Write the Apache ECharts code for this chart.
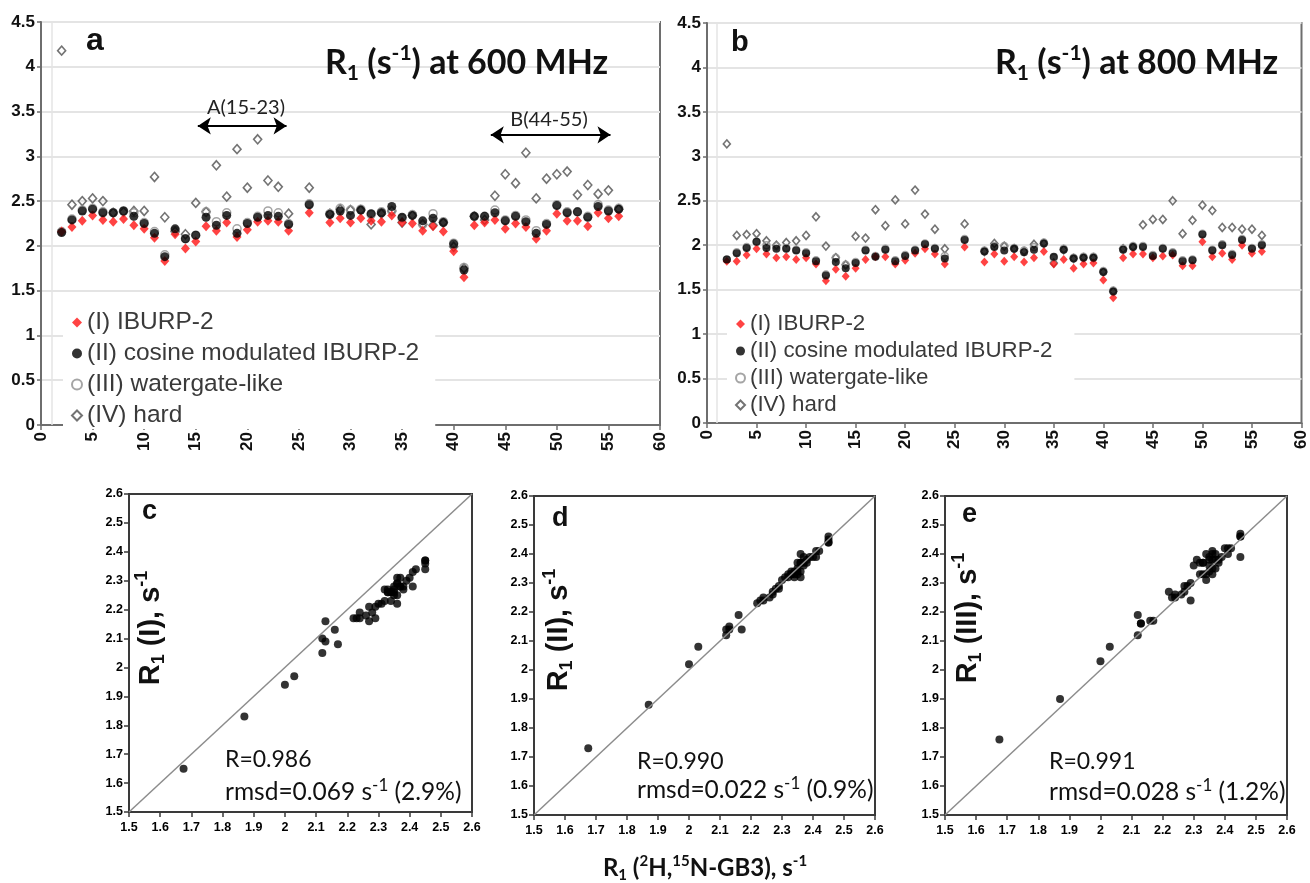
<!DOCTYPE html>
<html><head><meta charset="utf-8">
<script src="https://cdn.jsdelivr.net/npm/echarts@6/dist/echarts.min.js"></script>
<style>html,body{margin:0;padding:0;background:#fff}#c{width:1310px;height:883px}</style>
</head><body><div id="c"></div>
<script>
// ---------- data ----------
const residues = [2,3,4,5,6,7,8,9,10,11,12,13,14,15,16,17,18,19,20,21,22,23,24,26,28,29,30,31,32,33,34,35,36,37,38,39,40,41,42,43,44,45,46,47,48,49,50,51,52,53,54,55,56];

// R1 at 600 MHz (panel a)
const r600_I   = [2.16,2.21,2.28,2.34,2.29,2.27,2.30,2.23,2.19,2.09,1.83,2.13,1.97,2.05,2.22,2.17,2.26,2.10,2.18,2.27,2.28,2.27,2.17,2.37,2.26,2.31,2.26,2.31,2.28,2.27,2.34,2.26,2.25,2.17,2.22,2.16,1.94,1.65,2.23,2.26,2.29,2.19,2.25,2.21,2.08,2.17,2.36,2.28,2.28,2.22,2.37,2.31,2.33];
const r600_II  = [2.15,2.29,2.39,2.41,2.37,2.37,2.39,2.33,2.25,2.14,1.88,2.19,2.08,2.12,2.32,2.23,2.34,2.14,2.25,2.32,2.34,2.33,2.24,2.46,2.35,2.39,2.34,2.40,2.36,2.37,2.44,2.32,2.34,2.28,2.31,2.26,2.02,1.73,2.33,2.33,2.37,2.28,2.33,2.27,2.14,2.24,2.45,2.37,2.38,2.32,2.44,2.39,2.41];
const r600_III = [2.16,2.30,2.40,2.42,2.38,2.37,2.39,2.37,2.26,2.16,1.90,2.17,2.08,2.12,2.38,2.27,2.37,2.19,2.26,2.33,2.39,2.37,2.25,2.47,2.36,2.42,2.40,2.41,2.35,2.38,2.39,2.31,2.35,2.24,2.36,2.27,2.03,1.76,2.33,2.33,2.40,2.29,2.34,2.29,2.17,2.25,2.46,2.38,2.38,2.33,2.46,2.40,2.42];
const r600_IV  = [4.18,2.46,2.50,2.53,2.50,2.37,2.38,2.39,2.39,2.77,2.32,2.16,2.13,2.48,2.38,2.90,2.55,3.08,2.65,3.19,2.73,2.66,2.36,2.65,2.36,2.41,2.40,2.40,2.24,2.36,2.39,2.26,2.34,2.24,2.23,2.26,1.99,1.75,2.33,2.29,2.56,2.80,2.70,3.04,2.53,2.75,2.80,2.83,2.57,2.68,2.58,2.62,2.41];

// R1 at 800 MHz (panel b)
const r800_I   = [1.82,1.82,1.89,1.96,1.90,1.86,1.87,1.84,1.86,1.79,1.60,1.73,1.65,1.74,1.84,1.87,1.87,1.79,1.83,1.91,1.96,1.90,1.79,1.98,1.81,1.90,1.82,1.87,1.81,1.86,1.93,1.79,1.84,1.74,1.79,1.80,1.61,1.41,1.86,1.90,1.90,1.86,1.88,1.89,1.77,1.77,2.04,1.87,1.91,1.84,2.00,1.91,1.93];
const r800_II  = [1.84,1.91,1.97,2.04,1.97,1.96,1.96,1.94,1.91,1.82,1.66,1.81,1.74,1.80,1.94,1.87,1.95,1.82,1.88,1.94,2.01,1.96,1.85,2.06,1.93,1.98,1.94,1.96,1.92,1.95,2.02,1.87,1.95,1.85,1.86,1.86,1.70,1.48,1.95,1.98,1.98,1.88,1.96,1.91,1.82,1.83,2.12,1.94,2.00,1.89,2.06,1.96,2.00];
const r800_III = [1.84,1.92,1.98,2.04,2.00,1.99,1.97,1.95,1.92,1.83,1.67,1.86,1.78,1.81,1.95,1.88,1.96,1.83,1.89,1.95,2.02,1.97,1.88,2.07,1.94,1.99,1.99,1.97,1.94,1.98,2.03,1.86,1.96,1.86,1.87,1.87,1.71,1.49,1.96,1.99,1.99,1.89,1.97,1.92,1.83,1.84,2.13,1.95,2.01,1.90,2.07,1.97,2.01];
const r800_IV  = [3.14,2.11,2.12,2.13,2.05,2.00,2.03,2.05,2.11,2.32,1.99,1.86,1.78,2.10,2.08,2.40,2.22,2.51,2.24,2.62,2.35,2.18,1.96,2.24,1.93,2.02,1.99,1.96,1.93,2.01,2.02,1.80,1.95,1.85,1.86,1.86,1.70,1.48,1.96,1.98,2.23,2.29,2.29,2.50,2.13,2.28,2.45,2.39,2.20,2.20,2.18,2.18,2.11];

// reference R1 (2H,15N-GB3), same residue order (panels c-e x values)
const refR1 = [2.13,2.29,2.41,2.42,2.36,2.38,2.39,2.32,2.24,2.13,1.87,2.16,2.03,2.12,2.31,2.22,2.33,2.12,2.26,2.32,2.35,2.33,2.23,2.45,2.35,2.40,2.34,2.36,2.37,2.35,2.45,2.34,2.36,2.29,2.30,2.27,2.00,1.675,2.34,2.33,2.36,2.28,2.35,2.27,2.17,2.24,2.45,2.37,2.38,2.36,2.45,2.37,2.41];

const seriesNames = ['(I) IBURP-2','(II) cosine modulated IBURP-2','(III) watergate-like','(IV) hard'];
const xTicksTop = {min:0, max:60, interval:5};
const yTicksTop = {min:0, max:4.5, interval:0.5};
const ticksCorr = {min:1.5, max:2.6, interval:0.1};
const statsText = [['R=0.986','0.069','2.9%'],['R=0.990','0.022','0.9%'],['R=0.991','0.028','1.2%']];

// ---------- styling ----------
const ARIAL = 'Liberation Sans, Arial, sans-serif';
const CAL = 'Lato, Carlito, sans-serif';
const mk = [
  {symbol:'diamond', symbolSize:[9,10], itemStyle:{color:'#ff1414'}},
  {symbol:'circle', symbolSize:9, itemStyle:{color:'#000'}},
  {symbol:'circle', symbolSize:8, itemStyle:{color:'rgba(255,255,255,0)', borderColor:'#8f8f8f', borderWidth:1.5}},
  {symbol:'diamond', symbolSize:[8,9], itemStyle:{color:'rgba(255,255,255,0)', borderColor:'#505050', borderWidth:1.6}}
];
const drawOrder = [3,2,0,1];

function pairs(xs, ys){ return xs.map((x,i)=>[x, ys[i]]); }

function rich(base, fam, weight, color, supScale){
  const L = Math.round(base*1.2);
  const s = Math.round(base*(supScale||0.62));
  return {
    m:{fontSize:base, fontFamily:fam, fontWeight:weight, fill:color, lineHeight:L},
    sub:{fontSize:s, fontFamily:fam, fontWeight:weight, fill:color, lineHeight:Math.round(L-0.64*base), verticalAlign:'bottom'},
    sup:{fontSize:s, fontFamily:fam, fontWeight:weight, fill:color, lineHeight:Math.round(L-0.30*base), verticalAlign:'top'}
  };
}
function rtext(x, y, text, base, fam, weight, color, align, rot, supScale){
  return {type:'text', x:x, y:y, z:100, rotation:rot||0, silent:true,
    style:{text:text, rich:rich(base,fam,weight,color,supScale), align:align||'left', verticalAlign:'middle'}};
}
function ptext(x, y, text, size, fam, weight, color, align){
  return {type:'text', x:x, y:y, z:100, silent:true,
    style:{text:text, fontSize:size, fontFamily:fam, fontWeight:weight, fill:color, align:align||'left', verticalAlign:'middle'}};
}

const grids = [
  {left:41, top:22, width:619, height:403},
  {left:707, top:23, width:596, height:400},
  {left:129, top:494, width:343, height:318},
  {left:534, top:496, width:341, height:319},
  {left:945, top:496, width:342, height:319}
].map((g,i)=>Object.assign({show:true, backgroundColor:'rgba(0,0,0,0)', borderColor: i<2?'#6e6e6e':'#3a3a3a', borderWidth:2, containLabel:false}, g));

const topAxisLine = {show:true, lineStyle:{color:'#6e6e6e', width:2}};
function topX(gi){ return Object.assign({type:'value', gridIndex:gi, axisLine:topAxisLine,
  axisTick:{show:true, length:5, lineStyle:{color:'#6e6e6e', width:1.5}},
  axisLabel:{rotate:90, fontSize:17, fontWeight:'bold', fontFamily:ARIAL, color:'#111', margin:7},
  splitLine:{show:false}}, xTicksTop); }
function topY(gi){ return Object.assign({type:'value', gridIndex:gi, axisLine:topAxisLine,
  axisTick:{show:true, length:4, lineStyle:{color:'#6e6e6e', width:1.5}},
  axisLabel:{fontSize:17, fontWeight:'bold', fontFamily:ARIAL, color:'#111', margin:6},
  splitLine:{show:true, lineStyle:{color:'#e4e4e4', width:2}}}, yTicksTop); }
function corrAxis(gi, isX){ return Object.assign({type:'value', gridIndex:gi,
  axisLine:{show:true, lineStyle:{color:'#3a3a3a', width:2}},
  axisTick:{show:true, length:5, lineStyle:{color:'#3a3a3a', width:1.5}},
  axisLabel:{fontSize:12.5, fontWeight:'bold', fontFamily:ARIAL, color:'#000', margin: isX?9:6},
  splitLine:{show:false}}, ticksCorr); }

const series = [];
const topSets = [[r600_I,r600_II,r600_III,r600_IV],[r800_I,r800_II,r800_III,r800_IV]];
topSets.forEach((set, gi)=>{
  drawOrder.forEach(k=>{
    const s = Object.assign({type:'scatter', name:seriesNames[k], xAxisIndex:gi, yAxisIndex:gi,
      data:pairs(residues, set[k]), silent:true}, JSON.parse(JSON.stringify(mk[k])));
    if (gi===1) { s.symbolSize = Array.isArray(mk[k].symbolSize) ? mk[k].symbolSize.map(v=>v-1) : mk[k].symbolSize-1; }
    if (k===3) {
      s.markLine = {silent:true, symbol:'none', label:{show:false}, animation:false,
        lineStyle:{color:'#e4e4e4', width:1.5, type:'solid'}, data:[{xAxis:1}]};
    }
    series.push(s);
  });
});
// range arrows in panel a
series.push({type:'scatter', xAxisIndex:0, yAxisIndex:0, data:[], silent:true,
  markLine:{silent:true, symbol:['arrow','arrow'], symbolSize:13, label:{show:false}, animation:false,
    lineStyle:{color:'#000', width:2, type:'solid'},
    data:[[{coord:[15.2,3.34]},{coord:[23.8,3.34]}],[{coord:[43.6,3.24]},{coord:[55.2,3.24]}]]}});

const corrY = [r600_I, r600_II, r600_III];
corrY.forEach((ys, j)=>{
  series.push({type:'scatter', xAxisIndex:2+j, yAxisIndex:2+j, data:pairs(refR1, ys),
    symbol:'circle', symbolSize:8, itemStyle:{color:'#000'}, silent:true,
    markLine:{silent:true, symbol:'none', label:{show:false}, animation:false,
      lineStyle:{color:'#8c8c8c', width:1.5, type:'solid'},
      data:[[{coord:[ticksCorr.min,ticksCorr.min]},{coord:[ticksCorr.max,ticksCorr.max]}]]}});
});

const legendBase = {orient:'vertical', selectedMode:false, backgroundColor:'#fff', data:seriesNames};

const graphic = [
  ptext(86, 41, 'a', 32, ARIAL, 'bold', '#111'),
  ptext(731, 43, 'b', 29, ARIAL, 'bold', '#111'),
  rtext(325, 63, '{m|R}{sub|1}{m| (}{m|s}{sup|-1}{m|) at 600 MHz}', 34, CAL, 'bold', '#111'),
  rtext(995, 63, '{m|R}{sub|1}{m| (}{m|s}{sup|-1}{m|) at 800 MHz}', 34, CAL, 'bold', '#111'),
  ptext(246, 108, 'A(15-23)', 20, CAL, 'normal', '#222', 'center'),
  ptext(549, 120, 'B(44-55)', 20, CAL, 'normal', '#222', 'center'),
  ptext(142, 512, 'c', 27, ARIAL, 'bold', '#111'),
  ptext(552, 519, 'd', 27, ARIAL, 'bold', '#111'),
  ptext(962, 515, 'e', 27, ARIAL, 'bold', '#111'),
  rtext(151, 628, '{m|R}{sub|1}{m| (I), s}{sup|-1}', 29, ARIAL, 'bold', '#111', 'center', Math.PI/2),
  rtext(559, 630, '{m|R}{sub|1}{m| (II), s}{sup|-1}', 29, ARIAL, 'bold', '#111', 'center', Math.PI/2),
  rtext(968, 618, '{m|R}{sub|1}{m| (III), s}{sup|-1}', 29, ARIAL, 'bold', '#111', 'center', Math.PI/2),
  rtext(705, 868, '{m|R}{sub|1}{m| (}{sup|2}{m|H,}{sup|15}{m|N-GB3), s}{sup|-1}', 24, CAL, 'bold', '#111', 'center')
];
const statPos = [[225,760,792],[637,762,790],[1049,762,792]];
statsText.forEach((t,j)=>{
  const p = statPos[j];
  graphic.push(ptext(p[0], p[1], t[0], 23, CAL, 'normal', '#111'));
  graphic.push(rtext(p[0], p[2], '{m|rmsd=' + t[1] + ' s}{sup|-1}{m| (' + t[2] + ')}', 24.5, CAL, 'normal', '#111', 'left', 0, 0.68));
});

const option = {
  animation:false,
  backgroundColor:'#fff',
  grid:grids,
  xAxis:[topX(0), topX(1), corrAxis(2,true), corrAxis(3,true), corrAxis(4,true)],
  yAxis:[topY(0), topY(1), corrAxis(2,false), corrAxis(3,false), corrAxis(4,false)],
  legend:[
    Object.assign({left:63, top:302, itemWidth:10, itemHeight:10, itemGap:6, padding:[8,16,1,8],
      textStyle:{fontSize:24.5, fontFamily:ARIAL, color:'#3a3a3a', lineHeight:23}}, legendBase),
    Object.assign({left:727, top:305, itemWidth:9, itemHeight:9, itemGap:5, padding:[8,22,1,8],
      textStyle:{fontSize:22.3, fontFamily:ARIAL, color:'#3a3a3a', lineHeight:22}}, legendBase)
  ],
  series:series,
  graphic:graphic
};
const chart = echarts.init(document.getElementById('c'));
chart.setOption(option);
</script>
</body></html>
